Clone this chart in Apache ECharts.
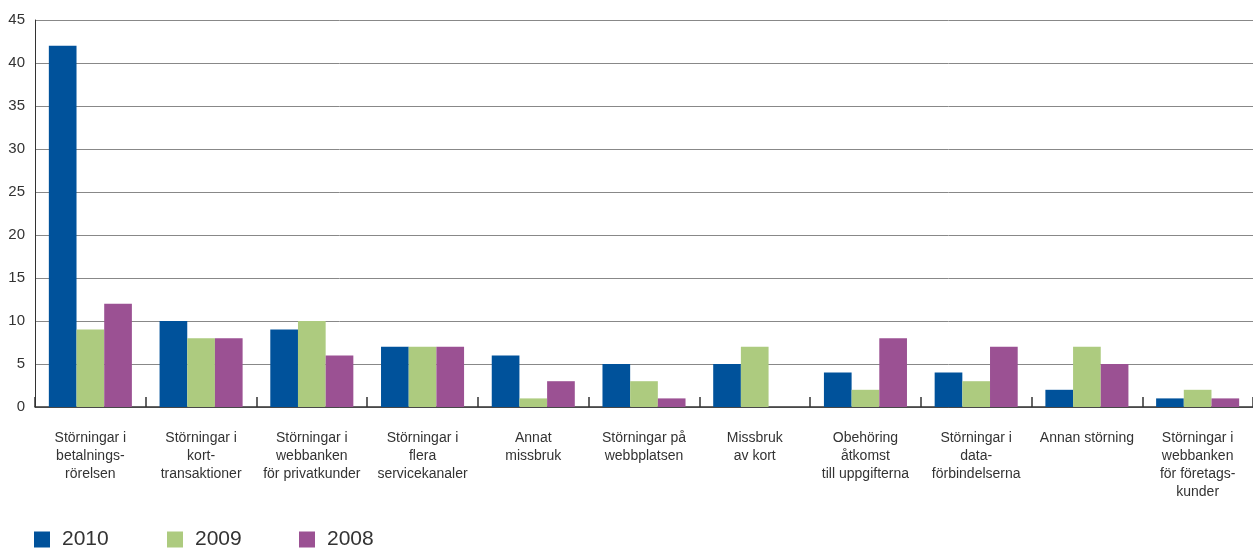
<!DOCTYPE html>
<html><head><meta charset="utf-8">
<script src="https://cdn.jsdelivr.net/npm/echarts@6/dist/echarts.min.js"></script>
<style>html,body{margin:0;padding:0;background:#fff}#c{width:1253px;height:548px}</style>
</head><body><div id="c"></div>
<script>
const categories = [
  "Störningar i\nbetalnings-\nrörelsen",
  "Störningar i\nkort-\ntransaktioner",
  "Störningar i\nwebbanken\nför privatkunder",
  "Störningar i\nflera\nservicekanaler",
  "Annat\nmissbruk",
  "Störningar på\nwebbplatsen",
  "Missbruk\nav kort",
  "Obehöring\nåtkomst\ntill uppgifterna",
  "Störningar i\ndata-\nförbindelserna",
  "Annan störning",
  "Störningar i\nwebbanken\nför företags-\nkunder"
];
const seriesNames = ['2010', '2009', '2008'];
const values2010 = [42, 10, 9, 7, 6, 5, 5, 4, 4, 2, 1];
const values2009 = [9, 8, 10, 7, 1, 3, 7, 2, 3, 7, 2];
const values2008 = [12, 8, 6, 7, 3, 1, 0, 8, 7, 5, 1];
const yTicks = { min: 0, max: 45, interval: 5 };

const font = '"Liberation Sans Narrow", "Liberation Sans", Arial, sans-serif';
const colors = ['#00529b', '#adcb7f', '#9b5193'];
const legendLeft = [34, 167, 299];
const chart = echarts.init(document.getElementById('c'));
chart.setOption({
  animation: false,
  color: colors,
  grid: { left: 35, right: 0, top: 20, bottom: 141, containLabel: false },
  legend: seriesNames.map((n, i) => ({
    left: legendLeft[i], top: 529, itemWidth: 16, itemHeight: 16, padding: 0,
    icon: 'rect',
    textStyle: { fontFamily: 'Liberation Sans, Arial, sans-serif', fontSize: 21, color: '#333', padding: [0, 0, 0, 7] },
    data: [n]
  })),
  xAxis: {
    type: 'category', data: categories,
    axisLine: { lineStyle: { color: '#333', width: 1.5 } },
    axisTick: { show: true, inside: true, length: 10, lineStyle: { color: '#333', width: 1.5 } },
    axisLabel: { interval: 0, margin: 22, fontFamily: font, fontSize: 14, lineHeight: 18, color: '#333' }
  },
  yAxis: {
    type: 'value', min: yTicks.min, max: yTicks.max, interval: yTicks.interval,
    axisLine: { show: true, lineStyle: { color: '#333', width: 1 } },
    axisTick: { show: false },
    splitLine: { lineStyle: { color: '#888', width: 1 } },
    axisLabel: { margin: 10, fontFamily: 'Liberation Sans, Arial, sans-serif', fontSize: 15, color: '#333' }
  },
  series: [
    { name: seriesNames[0], type: 'bar', data: values2010, barGap: '0%', barCategoryGap: '25%' },
    { name: seriesNames[1], type: 'bar', data: values2009, barGap: '0%', barCategoryGap: '25%' },
    { name: seriesNames[2], type: 'bar', data: values2008, barGap: '0%', barCategoryGap: '25%' }
  ]
});
</script></body></html>
